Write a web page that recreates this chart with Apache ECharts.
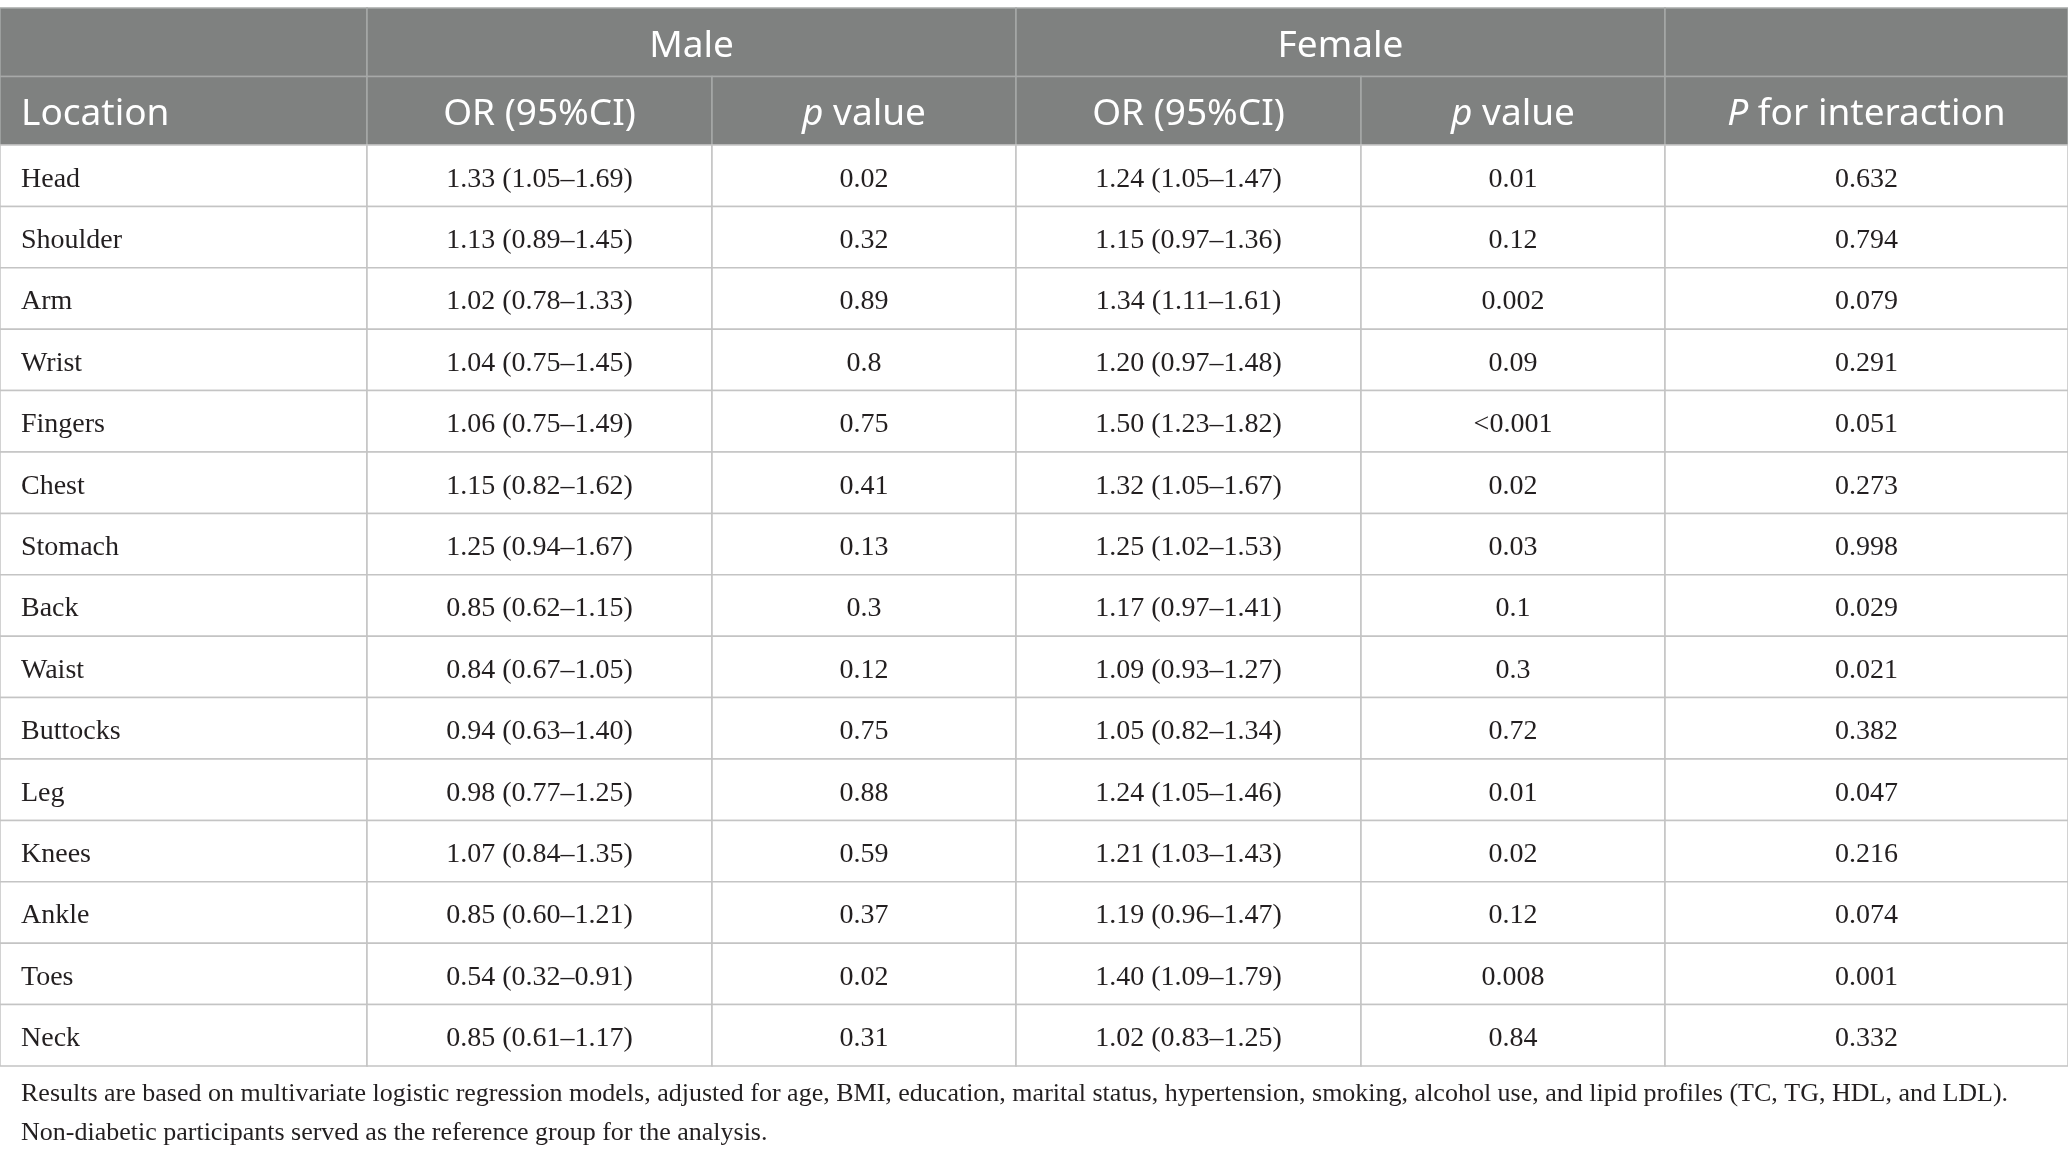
<!DOCTYPE html>
<html lang="en">
<head>
    <meta charset="UTF-8">
    <title>OR by location, male vs female</title>
    <style>
        html, body { margin: 0; padding: 0; background: #fff; }
        #chart-container { width: 2068px; height: 1160px; }
    </style>
</head>
<body>
    <div id="chart-container"></div>
    <script src="https://cdn.jsdelivr.net/npm/echarts@6/dist/echarts.min.js"></script>
    <script>
      // table content
      const groupHeaders = ['', 'Male', 'Female', ''];
      const groupSpans = [1, 2, 2, 1];
      const subHeaders = ['Location', 'OR (95%CI)', 'p value', 'OR (95%CI)', 'p value', 'P for interaction'];
      const locations = ['Head', 'Shoulder', 'Arm', 'Wrist', 'Fingers', 'Chest', 'Stomach', 'Back',
        'Waist', 'Buttocks', 'Leg', 'Knees', 'Ankle', 'Toes', 'Neck'];
      const maleOR = ['1.33 (1.05–1.69)', '1.13 (0.89–1.45)', '1.02 (0.78–1.33)', '1.04 (0.75–1.45)',
        '1.06 (0.75–1.49)', '1.15 (0.82–1.62)', '1.25 (0.94–1.67)', '0.85 (0.62–1.15)',
        '0.84 (0.67–1.05)', '0.94 (0.63–1.40)', '0.98 (0.77–1.25)', '1.07 (0.84–1.35)',
        '0.85 (0.60–1.21)', '0.54 (0.32–0.91)', '0.85 (0.61–1.17)'];
      const maleP = ['0.02', '0.32', '0.89', '0.8', '0.75', '0.41', '0.13', '0.3',
        '0.12', '0.75', '0.88', '0.59', '0.37', '0.02', '0.31'];
      const femaleOR = ['1.24 (1.05–1.47)', '1.15 (0.97–1.36)', '1.34 (1.11–1.61)', '1.20 (0.97–1.48)',
        '1.50 (1.23–1.82)', '1.32 (1.05–1.67)', '1.25 (1.02–1.53)', '1.17 (0.97–1.41)',
        '1.09 (0.93–1.27)', '1.05 (0.82–1.34)', '1.24 (1.05–1.46)', '1.21 (1.03–1.43)',
        '1.19 (0.96–1.47)', '1.40 (1.09–1.79)', '1.02 (0.83–1.25)'];
      const femaleP = ['0.01', '0.12', '0.002', '0.09', '<0.001', '0.02', '0.03', '0.1',
        '0.3', '0.72', '0.01', '0.02', '0.12', '0.008', '0.84'];
      const pInteraction = ['0.632', '0.794', '0.079', '0.291', '0.051', '0.273', '0.998', '0.029',
        '0.021', '0.382', '0.047', '0.216', '0.074', '0.001', '0.332'];
      const footnote = 'Results are based on multivariate logistic regression models, adjusted for age, BMI, education, marital status, hypertension, smoking, alcohol use, and lipid profiles (TC, TG, HDL, and LDL).\nNon-diabetic participants served as the reference group for the analysis.';

      // layout
      const colWidths = [367, 345, 304, 345, 304, 403];
      const colEdges = [0];
      colWidths.forEach(w => colEdges.push(colEdges[colEdges.length - 1] + w));
      const totalWidth = colEdges[colEdges.length - 1];

      const headFill = '#7f8180';
      const headLine = '#a7a9a8';
      const bodyLine = '#c4c4c4';
      const sansFont = 'Noto Sans';
      const serifFont = 'Liberation Serif';

      // header cells
      const headCells = [];
      let c = 0;
      groupHeaders.forEach((t, i) => {
        headCells.push({ x0: colEdges[c], x1: colEdges[c + groupSpans[i]], row: 0, text: t, align: 'center' });
        c += groupSpans[i];
      });
      subHeaders.forEach((t, i) => {
        headCells.push({ x0: colEdges[i], x1: colEdges[i + 1], row: 1, text: t.replace(/^([pP]) /, '{i|$1} '), align: i === 0 ? 'left' : 'center' });
      });

      // body cells
      const columns = [locations, maleOR, maleP, femaleOR, femaleP, pInteraction];
      const bodyCells = [];
      locations.forEach((loc, r) => {
        columns.forEach((col, i) => {
          bodyCells.push({ x0: colEdges[i], x1: colEdges[i + 1], row: r, text: col[r], align: i === 0 ? 'left' : 'center' });
        });
      });

      function cellRenderer(cells, opts) {
        return function (params, api) {
          const cell = cells[params.dataIndex];
          const row = api.value(2);
          const a = api.coord([api.value(0), row]);
          const b = api.coord([api.value(1), row]);
          const h = api.size([0, 1])[1];
          return {
            type: 'group',
            children: [
              {
                type: 'rect',
                shape: { x: a[0], y: a[1] - h / 2, width: b[0] - a[0], height: h },
                style: { fill: opts.fill, stroke: opts.stroke, lineWidth: 1.5 }
              },
              {
                type: 'text',
                z2: 10,
                style: {
                  text: cell.text,
                  x: cell.align === 'left' ? a[0] + 21 : (a[0] + b[0]) / 2,
                  y: a[1] + opts.dy,
                  align: cell.align,
                  verticalAlign: 'middle',
                  fill: opts.color,
                  fontFamily: opts.font,
                  fontSize: opts.size,
                  rich: { i: { fontStyle: 'italic', fontFamily: opts.font, fontSize: opts.size, fill: opts.color } }
                }
              }
            ]
          };
        };
      }

      var dom = document.getElementById('chart-container');
      var myChart = echarts.init(dom, null, { renderer: 'canvas' });

      var option = {
        animation: false,
        title: {
          text: footnote,
          left: 21,
          top: 1075,
          padding: 0,
          textStyle: { fontFamily: serifFont, fontSize: 26, fontWeight: 'normal', color: '#231f20', lineHeight: 39 }
        },
        grid: [
          { left: 0, right: 0, top: 8, height: 137 },
          { left: 0, right: 0, top: 145, height: 921 }
        ],
        xAxis: [
          { type: 'value', gridIndex: 0, min: 0, max: totalWidth, show: false },
          { type: 'value', gridIndex: 1, min: 0, max: totalWidth, show: false }
        ],
        yAxis: [
          { type: 'category', gridIndex: 0, inverse: true, data: ['group', 'sub'], show: false },
          { type: 'category', gridIndex: 1, inverse: true, data: locations, show: false }
        ],
        series: [
          {
            type: 'custom',
            xAxisIndex: 0,
            yAxisIndex: 0,
            renderItem: cellRenderer(headCells, { fill: headFill, stroke: headLine, color: '#ffffff', font: sansFont, size: 37, dy: 4 }),
            encode: { x: [0, 1], y: 2 },
            data: headCells.map(d => [d.x0, d.x1, d.row])
          },
          {
            type: 'custom',
            xAxisIndex: 1,
            yAxisIndex: 1,
            renderItem: cellRenderer(bodyCells, { fill: '#ffffff', stroke: bodyLine, color: '#231f20', font: serifFont, size: 28, dy: 3.5 }),
            encode: { x: [0, 1], y: 2 },
            data: bodyCells.map(d => [d.x0, d.x1, d.row])
          }
        ]
      };

      myChart.setOption(option);
      window.addEventListener('resize', myChart.resize);
    </script>
</body>
</html>
